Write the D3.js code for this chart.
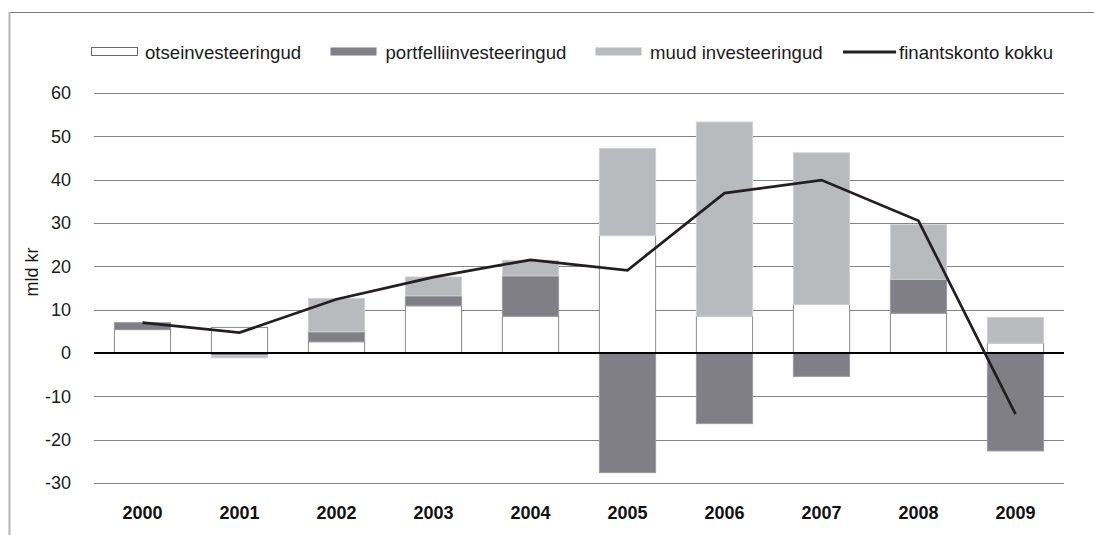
<!DOCTYPE html>
<html><head><meta charset="utf-8">
<script src="https://cdn.jsdelivr.net/npm/d3@7"></script>
<style>
html,body{margin:0;padding:0;background:#fff;}
svg{display:block;font-family:"Liberation Sans",Arial,Helvetica,sans-serif;}
</style></head>
<body>
<script>
const years = ["2000","2001","2002","2003","2004","2005","2006","2007","2008","2009"];
const otse   = [5.4, 5.9, 2.6, 10.9, 8.5, 27.1, 8.5, 11.2, 9.2, 2.3];
const portf  = [1.6, -0.6, 2.3, 2.3, 9.3, -27.6, -16.3, -5.4, 7.8, -22.6];
const muud   = [0, -0.5, 7.7, 4.35, 3.6, 20.1, 44.8, 35.0, 12.6, 5.9];
const kokku  = [7.0, 4.7, 12.4, 17.5, 21.5, 19.1, 36.9, 39.9, 30.5, -14.1];
const yTicks = [60, 50, 40, 30, 20, 10, 0, -10, -20, -30];
const seriesNames = ["otseinvesteeringud","portfelliinvesteeringud","muud investeeringud","finantskonto kokku"];

const W = 1094, H = 535;
const svg = d3.select("body").append("svg").attr("width", W).attr("height", H);

// frame
svg.append("line").attr("x1",9).attr("x2",W).attr("y1",12.5).attr("y2",12.5).attr("stroke","#7a7a7a").attr("stroke-width",1);
svg.append("line").attr("x1",9.5).attr("x2",9.5).attr("y1",12).attr("y2",H).attr("stroke","#b4b4b4").attr("stroke-width",2);

const x = d3.scaleBand().domain(years).range([94, 1064]).paddingInner(0.41).paddingOuter(0.205);
const y = d3.scaleLinear().domain([-30, 60]).range([483, 93]);

const keys = ["otse","portf","muud"];
const colors = {otse:"#ffffff", portf:"#7f7f85", muud:"#b9babe"};
const strokes = {otse:"#8a8a8a", portf:"#9a9a9f", muud:"#cfd0d3"};
const rows = years.map((yr,i)=>({year:yr, otse:otse[i], portf:portf[i], muud:muud[i]}));
const stacked = d3.stack().keys(keys).offset(d3.stackOffsetDiverging)(rows);

// gridlines
const grid = svg.append("g")
  .call(d3.axisLeft(y).tickValues(yTicks).tickSize(-(1064-94)).tickFormat(""))
  .attr("transform","translate(94,0)");
grid.select(".domain").remove();
grid.selectAll(".tick line").attr("stroke","#858585").attr("stroke-width",1)
  .attr("shape-rendering","crispEdges");

// y tick labels
svg.append("g").selectAll("text").data(yTicks).join("text")
  .attr("x",71).attr("y",d=>y(d)).attr("dy","0.36em")
  .attr("text-anchor","end").attr("font-size",18).attr("fill","#1a1a1a")
  .text(d=>d);

// y label
svg.append("text").attr("transform","translate(38,272) rotate(-90)")
  .attr("text-anchor","middle").attr("font-size",18).attr("fill","#1a1a1a").text("mld kr");

// bars
svg.append("g").selectAll("g").data(stacked).join("g")
  .attr("fill",d=>colors[d.key]).attr("stroke",d=>strokes[d.key]).attr("stroke-width",1)
  .selectAll("rect").data(d=>d).join("rect")
  .attr("x",d=>x(d.data.year)+0.5)
  .attr("width",x.bandwidth()-1)
  .attr("y",d=>y(Math.max(d[0],d[1])))
  .attr("height",d=>Math.abs(y(d[0])-y(d[1])));

// zero line
svg.append("line").attr("x1",94).attr("x2",1064).attr("y1",y(0)).attr("y2",y(0))
  .attr("stroke","#000").attr("stroke-width",2.2);

// total line
const line = d3.line().x((d,i)=>x(years[i])+x.bandwidth()/2).y(d=>y(d));
svg.append("path").datum(kokku).attr("d",line).attr("fill","none")
  .attr("stroke","#231f20").attr("stroke-width",2.7).attr("stroke-linejoin","miter");

// x labels
svg.append("g").selectAll("text").data(years).join("text")
  .attr("x",d=>x(d)+x.bandwidth()/2).attr("y",519)
  .attr("text-anchor","middle").attr("font-size",18).attr("font-weight","bold").attr("fill","#111")
  .text(d=>d);

// legend
const leg = svg.append("g").attr("font-size",18.6).attr("fill","#1a1a1a");
const legItems = [
  {x:91, tx:145, type:"otse"},
  {x:330, tx:385.5, type:"portf"},
  {x:595, tx:650, type:"muud"},
  {x:843, tx:899, type:"line"}
];
legItems.forEach((it,i)=>{
  if(it.type==="line"){
    leg.append("line").attr("x1",it.x).attr("x2",896).attr("y1",52).attr("y2",52)
      .attr("stroke","#231f20").attr("stroke-width",3);
  } else {
    leg.append("rect").attr("x",it.x+0.5).attr("y",47.5).attr("width",46).attr("height",8)
      .attr("fill",colors[it.type]).attr("stroke",it.type==="otse"?"#6a6a6a":"none").attr("stroke-width",1);
  }
  leg.append("text").attr("x",it.tx).attr("y",59).text(seriesNames[i]);
});
</script>
</body></html>
